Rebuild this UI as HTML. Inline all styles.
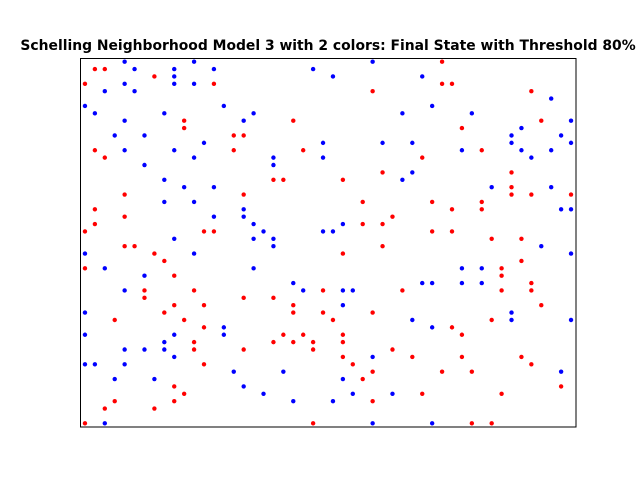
<!DOCTYPE html>
<html><head><meta charset="utf-8"><style>
html,body{margin:0;padding:0;background:#fff;width:640px;height:480px;overflow:hidden}
</style></head><body>
<svg id="chart" width="640" height="480" xmlns="http://www.w3.org/2000/svg">
<rect x="0" y="0" width="640" height="480" fill="#fff"/>
<text x="328" y="50" text-anchor="middle" font-family="DejaVu Sans, Liberation Sans, sans-serif" font-weight="bold" font-size="13.9">Schelling Neighborhood Model 3 with 2 colors: Final State with Threshold 80%</text>
<g id="marks"></g>
<rect x="80.5" y="58.5" width="495.5" height="368.5" fill="none" stroke="#000" stroke-width="1"/>
</svg>
<script>
const blueCols=[4,11,5,9,13,23,9,4,9,11,2,5,0,14,1,8,17,4,16,3,6,12,24,4,9,11,19,24,6,19,8,
29,25,34,47,35,32,39,49,44,43,48,30,33,43,49,38,44,47,45,33,32,
10,13,8,11,16,13,16,17,18,24,9,17,19,19,0,11,2,17,6,21,4,22,
41,47,48,49,26,25,46,49,38,40,34,35,38,40,26,27,26,
0,14,0,9,14,8,4,6,8,9,0,1,4,15,20,3,7,16,18,21,2,
43,33,43,49,35,29,48,26,27,31,25,29,35];
const blueRows=[0,0,1,1,1,1,2,3,3,3,4,4,6,6,7,7,7,8,8,10,10,11,11,12,12,13,13,13,14,14,16,
0,2,2,5,6,7,7,8,9,10,10,11,11,11,11,12,12,12,13,15,16,
17,17,19,19,20,21,21,22,23,23,24,24,24,25,26,26,28,28,29,30,31,31,
17,17,20,20,22,23,25,26,28,28,30,30,30,30,31,31,33,
34,36,37,37,37,38,39,39,39,40,41,41,41,42,42,43,43,44,45,46,49,
34,35,35,35,36,40,42,43,45,45,46,49,49];
const redCols=[1,2,7,0,13,10,21,10,15,16,1,15,22,2,19,20,
36,36,37,29,45,46,38,40,34,30,43,26,
4,16,1,4,1,0,12,13,4,5,7,8,0,9,6,11,24,6,16,19,9,12,21,
43,43,45,49,28,35,40,37,40,31,28,30,35,37,41,44,30,26,44,42,42,45,32,42,45,46,
8,21,24,3,10,12,20,22,11,19,21,23,11,16,23,12,9,10,3,9,2,7,0,23,
29,25,41,37,26,38,26,31,26,33,38,44,27,45,29,36,39,28,48,34,42,29,39,41];
const redRows=[1,1,2,3,3,8,8,9,10,10,12,12,12,13,16,16,
0,3,3,4,4,8,9,12,13,15,15,16,
18,18,20,21,22,23,23,23,25,25,26,27,28,29,31,31,31,32,32,32,33,33,33,
17,18,18,18,19,19,19,20,20,21,22,22,23,23,24,24,25,26,27,28,29,30,31,31,31,33,
34,34,34,35,35,36,37,37,38,38,38,38,39,39,39,41,44,45,46,46,47,47,49,49,
34,35,35,36,37,37,38,39,40,40,40,40,41,41,42,42,42,43,44,45,45,46,49,49];
const X0=80,X1=576,Y0=58,Y1=427;
function xs(c){return X0+(c+0.5)*(X1-X0)/50;}
function ys(r){return Y0+(r+0.5)*(Y1-Y0)/50;}
const g=document.getElementById('marks');
function draw(cols,rows,color,name){
  for(let i=0;i<cols.length;i++){
    const c=document.createElementNS('http://www.w3.org/2000/svg','circle');
    c.setAttribute('cx',xs(cols[i]));c.setAttribute('cy',ys(rows[i]));
    c.setAttribute('r',2.2);c.setAttribute('fill',color);
    
    
    g.appendChild(c);
  }
}
draw(redCols,redRows,'#ff0000','red-agent');
draw(blueCols,blueRows,'#0000ff','blue-agent');
</script>
</body></html>
